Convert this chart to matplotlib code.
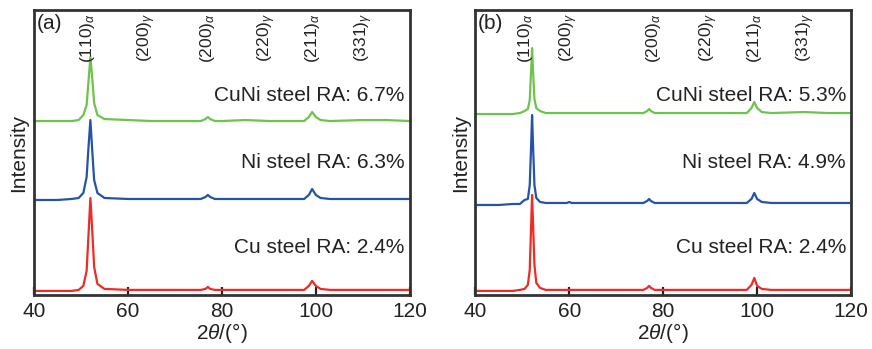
import matplotlib
matplotlib.use('Agg')
import matplotlib.pyplot as plt

plt.rcParams['font.family'] = ['Liberation Sans', 'DejaVu Sans']
plt.rcParams['mathtext.fontset'] = 'custom'
plt.rcParams['mathtext.rm'] = 'Liberation Sans'
plt.rcParams['mathtext.it'] = 'Liberation Sans:italic'

# 2theta grid
theta_a = [40, 45, 48, 49.5, 50.5, 51.2, 51.6, 52.0, 52.4, 52.8, 53.5, 55, 60, 65, 70, 74, 75.5, 76.5, 77,
           77.5, 78.5, 80, 85, 90, 95, 97.5, 98.5, 99.2, 100, 101, 103, 110, 115, 120]
cu_a = [4, 4, 4, 5, 9, 24, 60, 97, 64, 28, 11, 6, 5, 5, 5, 5, 5, 6, 8, 6, 5, 5, 5, 5, 5, 5, 9, 14, 9, 6, 5, 5,
        5, 5]
ni_a = [95, 95, 96, 97, 102, 118, 148, 175, 144, 115, 102, 97, 96, 96, 96, 96, 96, 98, 100, 98, 96, 96, 96, 96,
        96, 96, 100, 106, 100, 97, 96, 96, 96, 96]
cuni_a = [174, 174, 174, 175, 180, 190, 214, 238, 217, 192, 180, 176, 175, 174, 174, 174, 174, 176, 178, 176,
          174, 174, 175, 174, 174, 174, 178, 183, 178, 175, 174, 175, 175, 174]

# 2theta grid
theta_b = [40, 45, 48, 49.5, 50.5, 51.2, 51.6, 51.9, 52.1, 52.3, 52.6, 53.0, 53.8, 55, 59.5, 60, 60.5, 65, 70,
           74, 75.8, 76.6, 77.0, 77.4, 78.2, 80, 85, 90, 95, 97.8, 98.8, 99.4, 100, 101, 103, 110, 115, 120]
cu_b = [4, 4, 4, 5, 6, 10, 25, 70, 100, 72, 30, 12, 7, 5, 5, 5, 5, 5, 5, 5, 5, 7, 9, 7, 5, 5, 5, 5, 5, 5, 10, 17,
        9, 6, 5, 5, 5, 5]
ni_b = [90, 90, 91, 91, 95, 96, 110, 150, 180, 150, 110, 97, 93, 92, 92, 93, 92, 92, 92, 92, 92, 94, 96, 94, 92,
        92, 92, 92, 92, 92, 96, 102, 96, 93, 92, 92, 92, 92]
cuni_b = [181, 181, 181, 182, 184, 186, 195, 225, 247, 225, 196, 187, 184, 182, 182, 182, 182, 182, 182, 182,
          182, 184, 186, 184, 182, 182, 182, 182, 182, 182, 187, 193, 187, 183, 182, 183, 182, 182]

peak_names = ['(110)$_\\alpha$', '(200)$_\\gamma$', '(200)$_\\alpha$', '(220)$_\\gamma$', '(211)$_\\alpha$',
              '(331)$_\\gamma$']
peak_pos_a = [51.3, 64.0, 77.0, 89.6, 99.2, 110.2]
peak_pos_b = [50.6, 59.8, 77.9, 89.8, 99.4, 110.4]

ra_a = ['Cu steel RA: 2.4%', 'Ni steel RA: 6.3%', 'CuNi steel RA: 6.7%']
ra_b = ['Cu steel RA: 2.4%', 'Ni steel RA: 4.9%', 'CuNi steel RA: 5.3%']
ra_y = [47, 133, 200]

colors = ['#ee2b25', '#2553a8', '#6ec34c']

fig = plt.figure(figsize=(8.72, 3.49), dpi=100)
ax1 = fig.add_axes([0.039, 0.155, 0.431, 0.816])
ax2 = fig.add_axes([0.545, 0.155, 0.431, 0.816])

panels = [
    (ax1, theta_a, [cu_a, ni_a, cuni_a], peak_pos_a, ra_a, '(a)'),
    (ax2, theta_b, [cu_b, ni_b, cuni_b], peak_pos_b, ra_b, '(b)'),
]

for ax, theta, series, peak_pos, ra, tag in panels:
    for ys, c in zip(series, colors):
        ax.plot(theta, ys, color=c, linewidth=1.6)
    for name, pos in zip(peak_names, peak_pos):
        ax.text(pos, 0.99, name, transform=ax.get_xaxis_transform(), rotation=90,
                ha='center', va='top', fontsize=12.5, color='#222222')
    for txt, y in zip(ra, ra_y):
        ax.text(118.9, y, txt, ha='right', va='center', fontsize=15, color='#222222')
    ax.text(0.006, 0.985, tag, transform=ax.transAxes, ha='left', va='top', fontsize=15, color='#222222')

    ax.set_xlim(40, 120)
    ax.set_ylim(0, 285)
    ax.set_xticks([40, 60, 80, 100, 120])
    ax.set_yticks([])
    ax.tick_params(axis='x', direction='in', length=6, width=1.6, labelsize=15, colors='#222222', pad=5)
    for sp in ax.spines.values():
        sp.set_linewidth(2)
        sp.set_color('#333333')
    ax.set_xlabel('2$\\theta$/(°)', fontsize=15, color='#222222', labelpad=0)
    ax.set_ylabel('Intensity', fontsize=15, color='#222222', labelpad=4)

fig.savefig('out.png', dpi=100)
